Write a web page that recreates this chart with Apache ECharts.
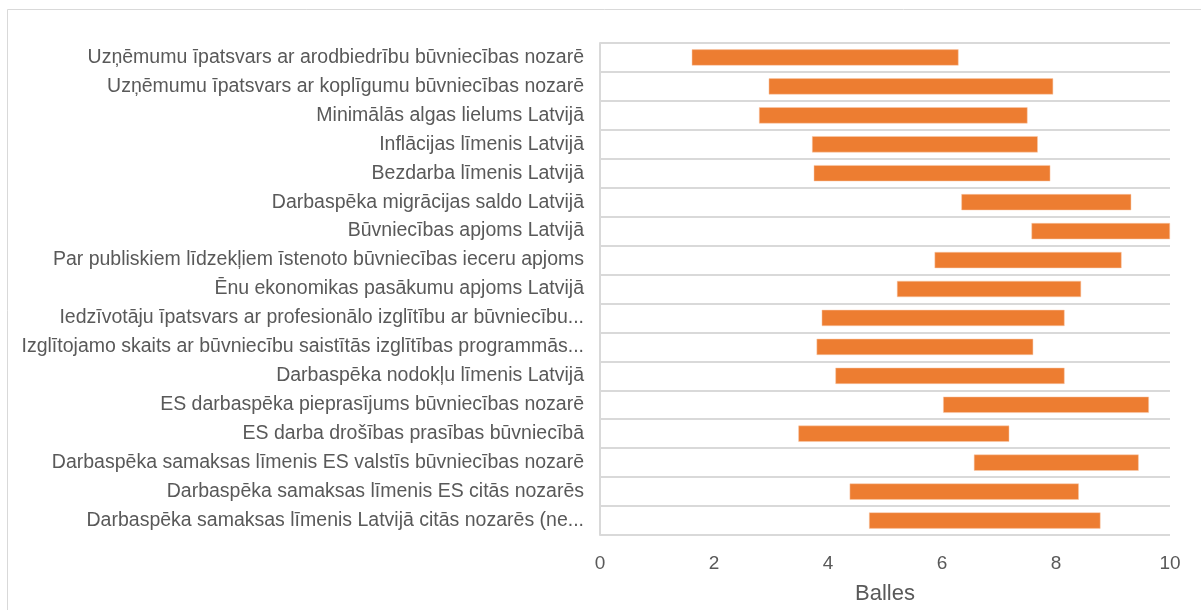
<!DOCTYPE html>
<html>
<head>
<meta charset="utf-8">
<script src="https://cdn.jsdelivr.net/npm/echarts@6/dist/echarts.min.js"></script>
<style>html,body{margin:0;padding:0;background:#fff}#c{width:1201px;height:610px}</style>
</head>
<body>
<div id="c"></div>
<script>
const categories = [
  "Uzņēmumu īpatsvars ar arodbiedrību būvniecības nozarē",
  "Uzņēmumu īpatsvars ar koplīgumu būvniecības nozarē",
  "Minimālās algas lielums Latvijā",
  "Inflācijas līmenis Latvijā",
  "Bezdarba līmenis Latvijā",
  "Darbaspēka migrācijas saldo Latvijā",
  "Būvniecības apjoms Latvijā",
  "Par publiskiem līdzekļiem īstenoto būvniecības ieceru apjoms",
  "Ēnu ekonomikas pasākumu apjoms Latvijā",
  "Iedzīvotāju īpatsvars ar profesionālo izglītību ar būvniecību...",
  "Izglītojamo skaits ar būvniecību saistītās izglītības programmās...",
  "Darbaspēka nodokļu līmenis Latvijā",
  "ES darbaspēka pieprasījums būvniecības nozarē",
  "ES darba drošības prasības būvniecībā",
  "Darbaspēka samaksas līmenis ES valstīs būvniecības nozarē",
  "Darbaspēka samaksas līmenis ES citās nozarēs",
  "Darbaspēka samaksas līmenis Latvijā citās nozarēs (ne..."
];
const minValues = [1.61, 2.96, 2.79, 3.72, 3.75, 6.34, 7.57, 5.87, 5.21, 3.89, 3.80, 4.13, 6.02, 3.48, 6.56, 4.38, 4.72];
const maxValues = [6.29, 7.95, 7.50, 7.68, 7.90, 9.32, 10.0, 9.15, 8.44, 8.15, 7.60, 8.15, 9.63, 7.18, 9.45, 8.40, 8.78];
const xTicks = [0, 2, 4, 6, 8, 10];
const axisTitle = "Balles";

const spans = maxValues.map((v, i) => +(v - minValues[i]).toFixed(3));
const font = "Liberation Sans, Arial, sans-serif";
const chart = echarts.init(document.getElementById('c'), null, {renderer: 'canvas'});
chart.setOption({
  animation: false,
  backgroundColor: '#fff',
  graphic: [{
    type: 'rect', shape: {x: 7.5, y: 9.5, width: 1200, height: 610},
    style: {fill: 'none', stroke: '#d9d9d9', lineWidth: 1}
  }],
  grid: {left: 600, right: 31, top: 43, bottom: 72},
  xAxis: {
    type: 'value', min: xTicks[0], max: xTicks[xTicks.length - 1], interval: 2,
    axisLine: {show: false}, axisTick: {show: false}, splitLine: {show: false},
    axisLabel: {color: '#595959', fontSize: 19, fontFamily: font, margin: 19},
    name: axisTitle, nameLocation: 'middle', nameGap: 48,
    nameTextStyle: {color: '#595959', fontSize: 22, fontFamily: font}
  },
  yAxis: {
    type: 'category', data: categories, inverse: true,
    axisLine: {show: true, lineStyle: {color: '#d9d9d9', width: 2}},
    axisTick: {show: false},
    splitLine: {show: true, lineStyle: {color: '#d9d9d9', width: 2}},
    axisLabel: {color: '#595959', fontSize: 19.5, fontFamily: font, margin: 16}
  },
  series: [
    {type: 'bar', stack: 'r', data: minValues, itemStyle: {color: 'transparent'}, barWidth: '56%', silent: true},
    {type: 'bar', stack: 'r', data: spans, itemStyle: {color: '#ed7d31', borderColor: '#f8cbad', borderWidth: 0.5}, barWidth: '56%'}
  ]
});
</script>
</body>
</html>
